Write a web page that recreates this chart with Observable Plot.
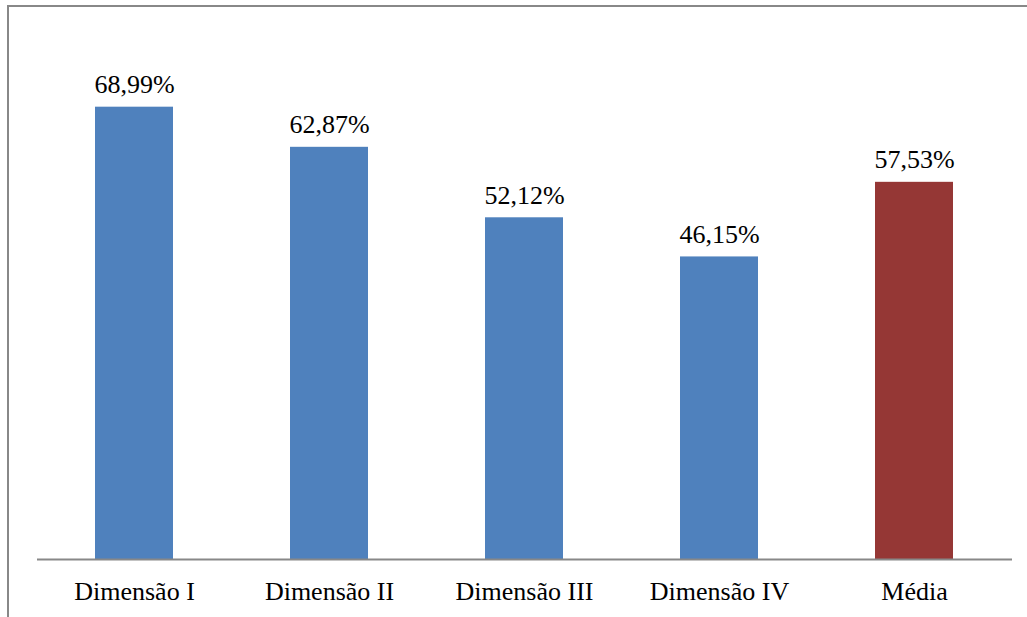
<!DOCTYPE html>
<html>
<head>
<meta charset="utf-8">
<script src="https://cdn.jsdelivr.net/npm/d3@7"></script>
<script src="https://cdn.jsdelivr.net/npm/@observablehq/plot@0.6"></script>
<style>
  html, body { margin: 0; padding: 0; background: #fff; overflow: hidden; width: 1027px; height: 617px; }
  #border { position: absolute; left: 7px; top: 5px; width: 2000px; height: 2000px; border: 2px solid #888; box-sizing: border-box; z-index: 0; }
  #chart { position: absolute; left: 0; top: 0; z-index: 1; }
  #chart svg { background: transparent; }
  #chart svg text { font-family: "Liberation Serif", serif !important; }
</style>
</head>
<body>
<div id="border"></div>
<div id="chart"></div>
<script>
const categories = ["Dimensão I", "Dimensão II", "Dimensão III", "Dimensão IV", "Média"];
const values = [68.99, 62.87, 52.12, 46.15, 57.53];
const groups = ["Dimensão", "Dimensão", "Dimensão", "Dimensão", "Média"];

const data = categories.map((c, i) => ({category: c, value: values[i], group: groups[i]}));
const fmt = v => v.toFixed(2).replace(".", ",") + "%";

const chart = Plot.plot({
  width: 1027,
  height: 617,
  marginLeft: 37,
  marginRight: 15,
  marginTop: 34.5,
  marginBottom: 58,
  style: {fontFamily: "Liberation Serif, serif", background: "transparent", color: "#000"},
  x: {domain: categories, paddingInner: 0.6, paddingOuter: 0.3, align: 0.5, label: null},
  y: {domain: [0, 80], axis: null},
  color: {domain: ["Dimensão", "Média"], range: ["#4F81BD", "#953735"]},
  marks: [
    Plot.barY(data, {x: "category", y: "value", fill: "group"}),
    Plot.ruleY([0], {stroke: "#888", strokeWidth: 2}),
    Plot.text(data, {x: "category", y: "value", text: d => fmt(d.value), lineAnchor: "bottom", dy: -14, fontSize: 26, fill: "#000"}),
    Plot.axisX({tickSize: 0, tickPadding: 22, fontSize: 26, label: null, fill: "#000"})
  ]
});
document.getElementById("chart").appendChild(chart);
</script>
</body>
</html>
